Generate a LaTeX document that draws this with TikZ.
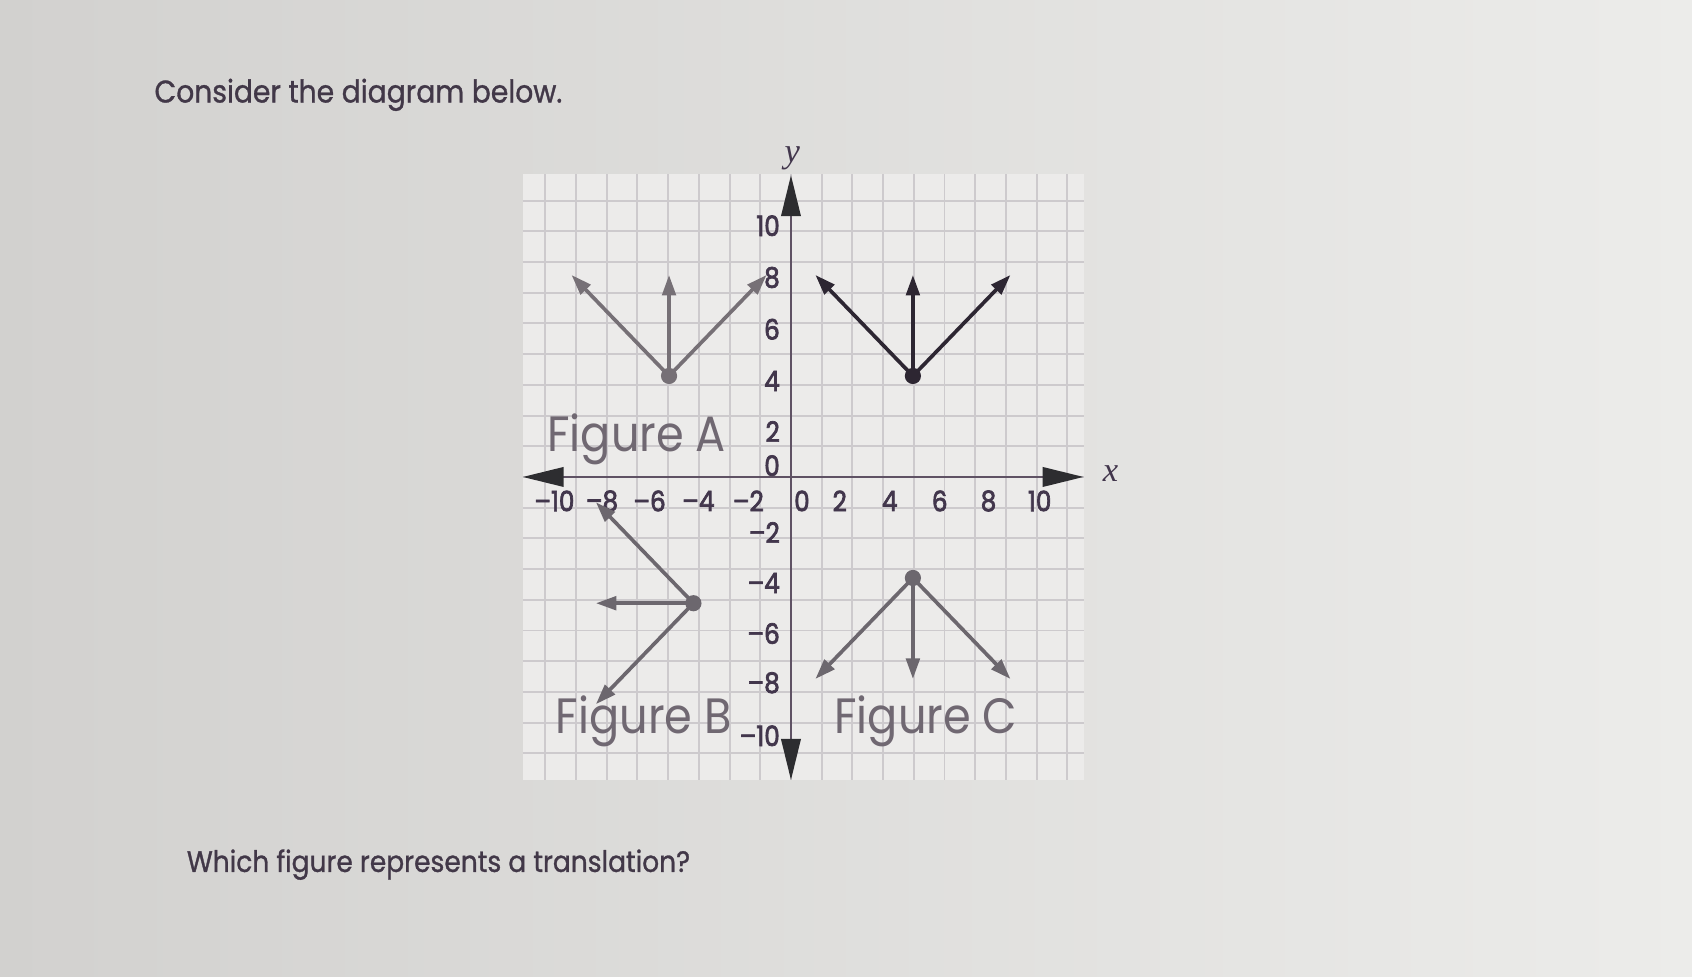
\documentclass[tikz,border=0pt]{standalone}
\usepackage{fontspec}
\setmainfont{Poppins}[FakeStretch=0.9, FakeBold=1]
\newfontfamily\lblfont{Poppins}[FakeStretch=0.88, FakeBold=2.5]
\newfontfamily\figfont{Poppins}[FakeStretch=0.9]
\newfontfamily\axisfont{Liberation Serif}
\usetikzlibrary{arrows.meta}
\definecolor{bgL}{RGB}{210,209,207}
\definecolor{bgR}{RGB}{236,236,234}
\definecolor{paper}{RGB}{236,235,234}
\definecolor{gridc}{RGB}{205,202,205}
\definecolor{axisc}{RGB}{95,82,100}
\definecolor{axarr}{RGB}{45,45,48}
\definecolor{txt}{RGB}{66,56,72}
\definecolor{lbl}{RGB}{66,54,76}
\definecolor{figA}{RGB}{118,112,118}
\definecolor{origc}{RGB}{45,38,50}
\definecolor{figBC}{RGB}{108,103,110}
\definecolor{flbl}{RGB}{112,104,114}
\tikzset{
  body/.style={anchor=base west, inner sep=0pt, text=txt},
  ylbl/.style={anchor=east, inner sep=0pt, text=lbl, font=\lblfont\fontsize{26}{30}\selectfont},
  xlbl/.style={anchor=center, inner sep=0pt, text=lbl, font=\lblfont\fontsize{26}{30}\selectfont},
  figlbl/.style={anchor=base west, inner sep=0pt, text=flbl, font=\figfont\fontsize{46}{52}\selectfont},
  axislbl/.style={inner sep=0pt, text=lbl, font=\axisfont\itshape\fontsize{32}{36}\selectfont},
  axisline/.style={axisc, line width=2.2pt,
    {Triangle[length=38pt,width=18pt,color=axarr]}-{Triangle[length=38pt,width=18pt,color=axarr]}},
  ray/.style={line width=3.4pt, -{Triangle[length=19pt,width=12.5pt]}},
}
\begin{document}
\begin{tikzpicture}[x=1pt,y=-1pt]
\useasboundingbox (0,0) rectangle (1568,905);
\shade[left color=bgL, right color=bgR] (0,0) rectangle (1568,905);
\node[body, font=\fontsize{29}{34}\selectfont] (title) at (143,95) {Consider the diagram below.};
\node[body, font=\fontsize{27.3}{32}\selectfont] (question) at (173,808) {Which figure represents a translation?};
\begin{scope}[shift={(733,442)}, x=22.6pt, y=23.4pt]
  \fill[paper] (-11,-12) rectangle (12,12);
  \draw[gridc, line width=1.8pt] (-11,-12) grid (12,12);
  % axes
  \coordinate (xl) at (-11,0);
  \coordinate (xr) at (12,0);
  \coordinate (yt) at (0,11.95);
  \coordinate (yb) at (0,-12);
  \draw[axisline] (xl) -- (xr);
  \draw[axisline] (yb) -- (yt);
  \node[axislbl] (ylab) at (0.05,12.6) {y};
  \node[axislbl] (xlab) at (13.1,0.15) {x};
  % y tick labels
  \foreach \v/\t/\p in {10/10/9.95, 8/8/7.9, 6/6/5.85, 4/4/3.8, 2/2/1.8, 0/0/0.45,
                        m2/–2/-2.2, m4/–4/-4.2, m6/–6/-6.2, m8/–8/-8.15, m10/–10/-10.25}
    \node[ylbl] (yt\v) at (-0.45,\p) {\t};
  % x tick labels
  \foreach \v/\t/\p in {m10/–10/-9.7, m8/–8/-7.75, m6/–6/-5.8, m4/–4/-3.8, m2/–2/-1.75,
                        0/0/0.45, 2/2/2.0, 4/4/4.05, 6/6/6.1, 8/8/8.1, 10/10/10.2}
    \node[xlbl] (xt\v) at (\p,-0.95) {\t};
  % original figure (upper right)
  \coordinate (Ov) at (5,4);
  \coordinate (Ol) at (1,8);
  \coordinate (Ou) at (5,8);
  \coordinate (Or) at (9,8);
  \draw[ray, origc] (Ov) -- (Ol);
  \draw[ray, origc] (Ov) -- (Ou);
  \draw[ray, origc] (Ov) -- (Or);
  \fill[origc] (Ov) circle (7.5pt);
  % Figure A
  \coordinate (Av) at (-5,4);
  \coordinate (Al) at (-9,8);
  \coordinate (Au) at (-5,8);
  \coordinate (Ar) at (-1,8);
  \draw[ray, figA] (Av) -- (Al);
  \draw[ray, figA] (Av) -- (Au);
  \draw[ray, figA] (Av) -- (Ar);
  \fill[figA] (Av) circle (7.5pt);
  % Figure B
  \coordinate (Bv) at (-4,-5);
  \coordinate (Bu) at (-8,-1);
  \coordinate (Bl) at (-8,-5);
  \coordinate (Bd) at (-8,-9);
  \draw[ray, figBC] (Bv) -- (Bu);
  \draw[ray, figBC] (Bv) -- (Bl);
  \draw[ray, figBC] (Bv) -- (Bd);
  \fill[figBC] (Bv) circle (7.5pt);
  % Figure C
  \coordinate (Cv) at (5,-4);
  \coordinate (Cl) at (1,-8);
  \coordinate (Cd) at (5,-8);
  \coordinate (Cr) at (9,-8);
  \draw[ray, figBC] (Cv) -- (Cl);
  \draw[ray, figBC] (Cv) -- (Cd);
  \draw[ray, figBC] (Cv) -- (Cr);
  \fill[figBC] (Cv) circle (7.5pt);
\end{scope}
\node[figlbl] (figAlbl) at (507,418) {Figure A};
\node[figlbl] (figBlbl) at (515,680) {Figure B};
\node[figlbl] (figClbl) at (773,680) {Figure C};
\end{tikzpicture}
\end{document}
